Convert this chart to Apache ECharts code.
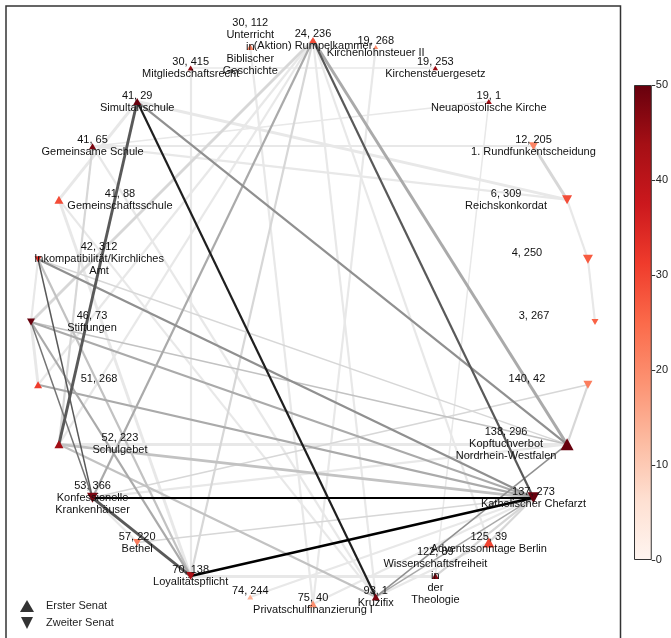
<!DOCTYPE html>
<html>
<head>
<meta charset="utf-8">
<script src="https://cdn.jsdelivr.net/npm/echarts@6/dist/echarts.min.js"></script>
<style>
html,body{margin:0;padding:0;background:#fff;}
#chart{width:671px;height:638px;}
</style>
</head>
<body>
<div id="chart"></div>
<script>
// ---- Data (nodes ordered counter-clockwise from the right) ----
const volumes = [3, 4, 6, 12, 19, 19, 19, 24, 30, 30, 41, 41, 41, 42, 46, 51, 52, 53, 57, 70, 74, 75, 93, 122, 125, 137, 138, 140];
const pages   = [267, 250, 309, 205, 1, 253, 268, 236, 112, 415, 29, 65, 88, 312, 73, 268, 223, 366, 220, 138, 244, 40, 1, 89, 39, 273, 296, 42];
const names = [
  "", "", "Reichskonkordat", "1. Rundfunkentscheidung", "Neuapostolische Kirche",
  "Kirchensteuergesetz", "Kirchenlohnsteuer II", "(Aktion) Rumpelkammer",
  "Unterricht\nin\nBiblischer\nGeschichte", "Mitgliedschaftsrecht", "Simultanschule",
  "Gemeinsame Schule", "Gemeinschaftsschule", "Inkompatibilität/Kirchliches\nAmt",
  "Stiftungen", "", "Schulgebet", "Konfessionelle\nKrankenhäuser", "Bethel",
  "Loyalitätspflicht", "", "Privatschulfinanzierung I", "Kruzifix",
  "Wissenschaftsfreiheit\nin\nder\nTheologie", "Adventssonntage Berlin",
  "Katholischer Chefarzt", "Kopftuchverbot\nNordrhein-Westfalen", ""
];
// 1 = Erster Senat, 2 = Zweiter Senat
const senates = [2, 2, 2, 2, 1, 1, 1, 1, 1, 1, 1, 1, 1, 2, 2, 1, 1, 2, 2, 2, 1, 1, 1, 1, 1, 2, 1, 2];
// colour value (0–50 scale)
const colorValues = [26, 27, 29, 21, 44, 45, 20, 29, 21, 46, 50, 48, 29, 34, 50, 31, 44, 48, 22, 43, 14, 19, 48, 47, 30, 50, 50, 22];
// node weight (drawn as marker size)
const nodeWeights = [6, 9, 9, 8, 5, 4.5, 4, 6, 6, 5, 7, 6, 8, 6, 7, 7, 8, 10, 7, 8, 5, 7, 7, 6, 10, 11, 12, 8];
// edges: [source, target, strength (1-10), citations (1-3)]
const edges = [
  [17,25,10,2],[19,25,10,2.5],[10,22,9,2],[7,25,7,2],[10,16,7,3],[17,19,7,3],
  [13,17,7,1],[14,17,6,1],
  [10,26,5,2],[7,26,4,3],[13,25,5,2],[14,25,4,2],[15,25,4,2],[22,26,5,1],[22,25,4,1],
  [7,17,4,2],[14,19,4,2],[13,19,3,2],[16,25,3,3],[16,22,3,2],[14,26,3,1],[13,26,2,1],
  [16,26,1,3],[10,2,1,3],[11,3,1,2],[3,2,2,3],[17,27,2,1],[7,14,2,3],[7,15,1,2],
  [7,16,1,2],[7,19,2,2],[7,24,1,2],[7,22,1,2],[4,23,1,1],[1,0,1,2],[26,27,2,2],
  [25,24,2,2],[23,25,2,2],[19,23,1,3],[18,25,2,1],[12,10,1,3],[14,15,1,3],[13,14,1,2],
  [12,19,1,3],[9,19,1,2],[2,1,1,2],[11,4,1,1],[9,5,1,1],[17,26,1,2],[21,25,1,2],
  [20,25,1,2],[22,24,1,2],[11,22,1,2],[12,22,1,2],[8,21,1,2],[6,21,1,2],[11,2,1,2],
  [11,16,2,2],[18,17,1,2]
];
const colorbarTicks = [0, 10, 20, 30, 40, 50];
const colorMax = 50;

// ---- Chart ----
const chart = echarts.init(document.getElementById('chart'), null, {renderer: 'canvas'});
const N = names.length;
const reds = ['#fff5f0','#fee0d2','#fcbba1','#fc9272','#fb6a4a','#ef3b2c','#cb181d','#a50f15','#67000d'];
const FONT = '"Liberation Sans", Arial, sans-serif';

const nodes = names.map((nm, i) => {
  const c = Math.cos(i * 2 * Math.PI / N);
  const off = Math.abs(c) > 0.85 ? [-Math.sign(c) * 61, 0] : [0, 0];
  const s = nodeWeights[i];
  return {
    name: String(i),
    value: [1, i],
    symbol: senates[i] === 1 ? 'triangle' : 'path://M0,0L10,0L5,10Z',
    symbolSize: [s + 1, s],
    itemStyle: {color: echarts.color.lerp(colorValues[i] / colorMax, reds), opacity: 1},
    label: {offset: off},
    labelText: volumes[i] + ', ' + pages[i] + '\n' + nm
  };
});

function grey(s) {
  const g = Math.round(232 * (1 - Math.pow((s - 1) / 9, 1.2)));
  return 'rgb(' + g + ',' + g + ',' + g + ')';
}
const links = edges.slice().sort((a, b) => a[2] - b[2]).map(e => ({
  source: String(e[0]), target: String(e[1]),
  lineStyle: {color: grey(e[2]), width: 0.8 + e[3] * 0.7, opacity: 1, curveness: 0}
}));

const option = {
  animation: false,
  backgroundColor: '#fff',
  textStyle: {fontFamily: FONT},
  polar: {center: [313, 322], radius: 282},
  angleAxis: {
    type: 'category', data: names.map((_, i) => String(i)), boundaryGap: false,
    startAngle: 0, clockwise: false, show: false
  },
  radiusAxis: {type: 'value', min: 0, max: 1, show: false},
  grid: {left: 634, top: 85, width: 24, height: 475},
  xAxis: {type: 'category', data: [''], show: false},
  yAxis: {
    type: 'value', position: 'right', min: 0, max: 50, interval: 10,
    axisLine: {show: false}, splitLine: {show: false},
    axisTick: {show: true, length: 3.5, lineStyle: {color: '#333'}},
    axisLabel: {color: '#222', fontSize: 11, margin: 4, fontFamily: FONT,
      formatter: v => colorbarTicks.indexOf(v) >= 0 ? String(v) : ''}
  },
  legend: {
    orient: 'vertical', left: 20, top: 600, padding: 0, itemWidth: 14, itemHeight: 12, itemGap: 5,
    selectedMode: false,
    textStyle: {fontSize: 11, color: '#222', fontFamily: FONT, padding: [0, 0, 0, 7]},
    data: [
      {name: 'Erster Senat', icon: 'triangle'},
      {name: 'Zweiter Senat', icon: 'path://M0,0L10,0L5,10Z'}
    ]
  },
  graphic: [{
    type: 'rect', z: 100, silent: true,
    shape: {x: 6, y: 6, width: 614.5, height: 700},
    style: {fill: 'none', stroke: '#333', lineWidth: 1.5}
  }],
  series: [
    {
      type: 'graph', coordinateSystem: 'polar', polarIndex: 0,
      data: nodes, links: links,
      edgeSymbol: ['none', 'none'],
      label: {
        show: true, position: 'inside', color: '#111', fontSize: 11, lineHeight: 12,
        fontFamily: FONT,
        formatter: p => nodes[p.dataIndex].labelText
      },
      emphasis: {disabled: true},
      silent: true
    },
    {
      type: 'bar', xAxisIndex: 0, yAxisIndex: 0, data: [50], barWidth: '100%', silent: true,
      itemStyle: {
        borderColor: '#333', borderWidth: 1,
        color: new echarts.graphic.LinearGradient(0, 1, 0, 0,
          reds.map((c, i) => ({offset: i / (reds.length - 1), color: c})))
      }
    },
    {type: 'scatter', name: 'Erster Senat', xAxisIndex: 0, yAxisIndex: 0, data: [], itemStyle: {color: '#000'}},
    {type: 'scatter', name: 'Zweiter Senat', xAxisIndex: 0, yAxisIndex: 0, data: [], itemStyle: {color: '#000'}}
  ]
};
chart.setOption(option);
</script>
</body>
</html>
